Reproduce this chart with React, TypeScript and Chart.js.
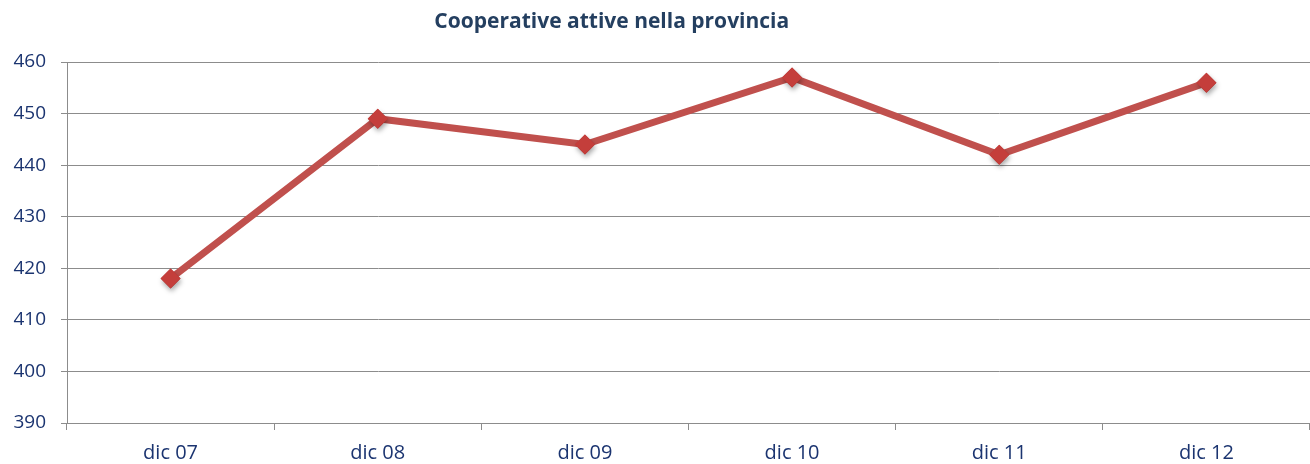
import React, { useEffect, useRef } from "react";
import { Chart, registerables } from "chart.js";

Chart.register(...registerables);

const TITLE = "Cooperative attive nella provincia";
const categories = ["dic 07", "dic 08", "dic 09", "dic 10", "dic 11", "dic 12"];
const values = [418, 449, 444, 457, 442, 456];
const yMin = 390;
const yMax = 460;
const yStep = 10;

const FONT = "'Open Sans', Lato, sans-serif";
const TEXT = "#1B3470";

const titlePlugin = {
  id: "customTitle",
  afterDraw(chart: any) {
    const ctx = chart.ctx;
    ctx.save();
    ctx.font = `bold 21px ${FONT}`;
    ctx.fillStyle = "#243F60";
    ctx.textAlign = "center";
    ctx.textBaseline = "middle";
    ctx.fillText(TITLE, chart.width * 0.467, 22);
    ctx.restore();
  },
};

const shadowPlugin = {
  id: "markerShadow",
  afterDatasetsDraw(chart: any) {
    const ctx = chart.ctx;
    const meta = chart.getDatasetMeta(0);
    ctx.save();
    ctx.shadowColor = "rgba(0,0,0,0.35)";
    ctx.shadowBlur = 5;
    ctx.shadowOffsetX = 1;
    ctx.shadowOffsetY = 3;
    meta.data.forEach((pt: any) => pt.draw(ctx, chart.chartArea));
    ctx.restore();
  },
};

export default function App() {
  const ref = useRef<HTMLCanvasElement | null>(null);
  useEffect(() => {
    if (!ref.current) return;
    const chart = new Chart(ref.current, {
      type: "line",
      data: {
        labels: categories,
        datasets: [
          {
            data: values,
            borderColor: "#C0504D",
            borderWidth: 7,
            backgroundColor: "#C0504D",
            pointStyle: "rectRot",
            pointRadius: 10,
            pointBackgroundColor: "#C43E3B",
            pointBorderColor: "#C43E3B",
            pointBorderWidth: 0,
            tension: 0,
            fill: false,
            clip: false as any,
          },
        ],
      },
      options: {
        responsive: false,
        animation: false,
        events: [],
        layout: { padding: { top: 62, right: 0, left: 0, bottom: 0 }, autoPadding: false } as any,
        plugins: {
          legend: { display: false },
          title: { display: false },
          tooltip: { enabled: false },
        },
        scales: {
          x: {
            offset: true,
            grid: {
              offset: true,
              drawOnChartArea: false,
              drawTicks: true,
              tickLength: 7,
              color: "#8C8C8C",
            },
            border: { color: "#8C8C8C", width: 1 },
            ticks: {
              color: TEXT,
              font: { family: FONT, size: 20 },
              padding: 11,
              maxRotation: 0,
            },
            afterFit(scale: any) {
              scale.height = 41;
            },
          },
          y: {
            min: yMin,
            max: yMax,
            grid: {
              color: "#8C8C8C",
              lineWidth: 1,
              tickLength: 6,
            },
            border: { color: "#8C8C8C", width: 1 },
            ticks: {
              stepSize: yStep,
              color: TEXT,
              font: { family: FONT, size: 19 },
              padding: 15,
            },
            afterFit(scale: any) {
              scale.width = 67;
            },
          },
        },
      },
      plugins: [titlePlugin, shadowPlugin],
    });
    return () => chart.destroy();
  }, []);
  return (
    <div style={{ position: "fixed", left: 0, top: 0, width: 1310, height: 464, background: "#fff" }}>
      <canvas ref={ref} width={1310} height={464} />
    </div>
  );
}
